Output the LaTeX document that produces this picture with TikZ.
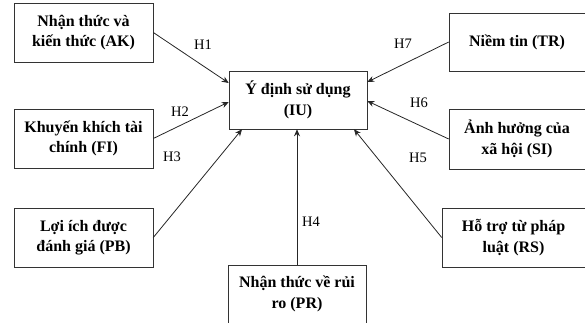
\documentclass[tikz,border=0pt]{standalone}
\usepackage{fontspec}
\setmainfont{Liberation Serif}
\usetikzlibrary{arrows.meta,shadows}
\begin{document}
\begin{tikzpicture}[x=1pt,y=-1pt,
  box/.style={draw=black!80, line width=0.6pt, fill=white, align=center,
    font=\fontsize{16}{20.5}\selectfont\bfseries, inner sep=2pt,
    drop shadow={shadow xshift=1.2pt, shadow yshift=-1.2pt, fill=black!45, opacity=1}},
  arr/.style={draw=black!85, line width=0.8pt, -{Stealth[length=7pt,width=6pt]}},
  lab/.style={font=\fontsize{14.5}{16}\selectfont}]
\clip (0,0) rectangle (585,323);
\useasboundingbox (0,0) rectangle (585,323);
\node[box, minimum width=139pt, minimum height=59pt] (ak) at (83.5,32.5) {Nhận thức và\\kiến thức (AK)};
\node[box, minimum width=138pt, minimum height=58pt] (iu) at (298,100) {Ý định sử dụng\\(IU)};
\node[box, minimum width=136pt, minimum height=58pt] (tr) at (517,42) {Niềm tin (TR)};
\node[box, minimum width=139pt, minimum height=59pt] (fi) at (83.5,138.5) {Khuyến khích tài\\chính (FI)};
\node[box, minimum width=136pt, minimum height=60pt] (si) at (517,139) {Ảnh hưởng của\\xã hội (SI)};
\node[box, minimum width=139pt, minimum height=59pt] (pb) at (83.5,237.5) {Lợi ích được\\đánh giá (PB)};
\node[box, minimum width=143pt, minimum height=59pt] (rs) at (513.5,237.5) {Hỗ trợ từ pháp\\luật (RS)};
\node[box, minimum width=138pt, minimum height=58pt] (pr) at (297,294) {Nhận thức về rủi\\ro (PR)};

\draw[arr] (ak.east) -- ([yshift=17pt]iu.west);
\draw[arr] (fi.east) -- ([yshift=-2pt]iu.west);
\draw[arr] (pb.east) -- ([xshift=-56pt]iu.south);
\draw[arr] (pr.north) -- (pr.north |- iu.south);
\draw[arr] (rs.west) -- ([xshift=56pt]iu.south);
\draw[arr] (si.west) -- ([yshift=-1pt]iu.east);
\draw[arr] (tr.west) -- ([yshift=18pt]iu.east);

\node[lab] (h1) at (203,45) {H1};
\node[lab] (h2) at (180,112) {H2};
\node[lab] (h3) at (172,157) {H3};
\node[lab] (h4) at (311,222) {H4};
\node[lab] (h5) at (418,158) {H5};
\node[lab] (h6) at (419,103) {H6};
\node[lab] (h7) at (403,44) {H7};
\end{tikzpicture}
\end{document}
